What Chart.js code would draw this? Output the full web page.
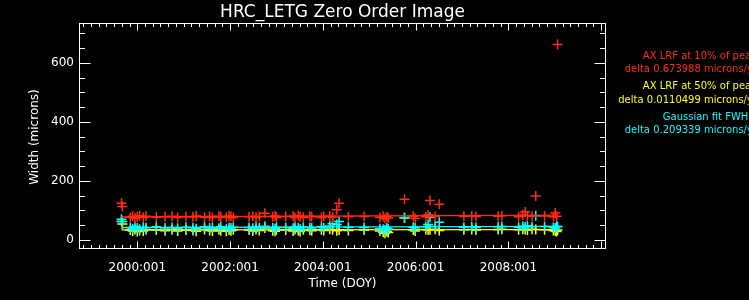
<!DOCTYPE html>
<html><head><meta charset="utf-8">
<script src="https://cdn.jsdelivr.net/npm/chart.js@4/dist/chart.umd.min.js"></script>
<style>html,body{margin:0;padding:0;background:#000;overflow:hidden}</style>
</head><body>
<canvas id="c" width="749" height="300"></canvas>
<script>
// ---- data (fractional year) ----
const years = [1999.66,1999.68,1999.85,1999.90,1999.95,2000.00,2000.05,2000.13,2000.19,2000.41,2000.60,2000.75,2000.87,2001.05,2001.20,2001.27,2001.45,2001.56,2001.62,2001.76,2001.80,2001.92,2001.98,2002.02,2002.07,2002.41,2002.49,2002.56,2002.63,2002.75,2002.92,2002.97,2003.00,2003.20,2003.36,2003.40,2003.47,2003.51,2003.58,2003.72,2003.76,2003.97,2004.02,2004.15,2004.21,2004.30,2004.35,2004.55,2004.89,2005.23,2005.30,2005.34,2005.38,2005.41,2005.76,2005.95,2005.99,2006.22,2006.27,2006.31,2006.42,2006.51,2007.04,2007.21,2007.30,2007.78,2007.86,2008.22,2008.31,2008.36,2008.41,2008.51,2008.59,2008.78,2008.97,2009.01,2009.04,2009.06];
const lrf10 = [124,113,76,80,74,78,82,77,80,77,78,80,76,79,78,81,77,79,76,80,78,77,81,79,76,78,80,77,79,90,78,81,77,79,80,76,82,78,77,80,78,76,79,80,77,102,124,78,79,76,80,72,78,74,138,80,73,78,85,133,79,121,80,81,79,80,82,78,84,94,82,80,149,81,78,91,80,662];
const lrf50 = [62,54,33,30,35,28,32,30,34,33,31,34,30,33,32,29,35,32,30,34,31,29,33,31,34,33,30,35,32,40,31,29,34,33,30,35,32,28,34,33,31,34,32,36,34,31,33,32,33,30,26,22,28,25,74,33,30,35,33,34,36,32,34,35,33,35,36,34,36,35,33,36,35,34,32,30,28,33];
const fwhm = [70,62,42,38,45,40,36,43,41,44,40,42,39,43,41,38,44,40,42,39,44,38,42,40,43,42,39,44,41,46,40,38,43,42,39,44,41,37,43,42,40,44,41,47,55,52,62,43,42,38,36,33,40,37,76,43,40,44,52,77,45,60,43,44,42,44,45,43,46,44,48,44,82,45,42,40,46,44];
const fitYears = [1999.66, 2009.06];
const fit10 = [77.5, 83.8];
const fit50 = [34.0, 35.0];
const fitFwhm = [41.5, 45.5];
const xTicks = [2000, 2002, 2004, 2006, 2008];
const xTickLabels = ['2000:001','2002:001','2004:001','2006:001','2008:001'];
const yTicks = [0, 200, 400, 600];
const legendLines = [
  ['AX LRF at 10% of peak', '#ff2a10'],
  ['delta 0.673988 microns/yr', '#ff2a10'],
  ['AX LRF at 50% of peak', '#ffff00'],
  ['delta 0.0110499 microns/yr', '#ffff00'],
  ['Gaussian fit FWHM', '#00ffff'],
  ['delta 0.209339 microns/yr', '#00ffff']
];

const RED = '#ff2a10', YEL = '#ffff00', CYA = '#00ffff';
const pts = (xs, ys) => xs.map((x, i) => ({x: x, y: ys[i]}));

const FONT = 'DejaVu Sans';

const decor = {
  id: 'decor',
  beforeDraw(chart) {
    const ctx = chart.ctx;
    ctx.save();
    ctx.fillStyle = '#000';
    ctx.fillRect(0, 0, chart.width, chart.height);
    ctx.restore();
  },
  afterDraw(chart) {
    const ctx = chart.ctx, a = chart.chartArea;
    const xs = chart.scales.x, ys = chart.scales.y;
    ctx.save();
    ctx.strokeStyle = '#fff';
    ctx.lineWidth = 1;
    const L = Math.round(a.left) + 0.5, R = Math.round(a.right) - 0.5;
    const T = Math.round(a.top) + 0.5, B = Math.round(a.bottom) - 0.5;
    ctx.strokeRect(L, T, R - L, B - T);
    ctx.beginPath();
    for (let k = Math.ceil(xs.min * 6); k <= Math.floor(xs.max * 6); k++) {
      const v = k / 6;
      const px = Math.round(xs.getPixelForValue(v)) + 0.5;
      const major = (k % 12 === 0);
      const len = major ? 7 : 3.5;
      ctx.moveTo(px, B); ctx.lineTo(px, B - len);
      ctx.moveTo(px, T); ctx.lineTo(px, T + len);
    }
    for (let v = 0; v <= ys.max; v += 50) {
      const py = Math.round(ys.getPixelForValue(v)) + 0.5;
      const major = (v % 200 === 0);
      const len = major ? 11 : 5.5;
      ctx.moveTo(L, py); ctx.lineTo(L + len, py);
      ctx.moveTo(R, py); ctx.lineTo(R - len, py);
    }
    ctx.stroke();
    ctx.fillStyle = '#fff';
    ctx.textAlign = 'center';
    ctx.textBaseline = 'middle';
    ctx.font = '17px "' + FONT + '"';
    ctx.fillText('HRC_LETG Zero Order Image', (a.left + a.right) / 2, 13);
    ctx.font = '12px "' + FONT + '"';
    ctx.fillText('Time (DOY)', (a.left + a.right) / 2, 284);
    ctx.save();
    ctx.translate(35, 137);
    ctx.rotate(-Math.PI / 2);
    ctx.fillText('Width (microns)', 0, 0);
    ctx.restore();
    ctx.textAlign = 'right';
    ctx.font = '10px "' + FONT + '"';
    const ly = [56, 69, 86, 100, 117, 130];
    legendLines.forEach((l, i) => {
      ctx.fillStyle = l[1];
      ctx.fillText(l[0], 757, ly[i]);
    });
    ctx.restore();
  }
};

const crossDs = (label, data, color, order) => ({
  label, data: pts(years, data), borderColor: color, backgroundColor: color,
  pointStyle: 'cross', pointRadius: 5, pointBorderWidth: 1.5, showLine: false, order
});
const lineDs = (label, data, color, order) => ({
  label, data: pts(fitYears, data), borderColor: color, backgroundColor: color,
  showLine: true, pointRadius: 0, borderWidth: 1.3, order
});

new Chart(document.getElementById('c'), {
  type: 'scatter',
  data: {
    datasets: [
      lineDs('fit 10%', fit10, RED, 1),
      crossDs('AX LRF at 10% of peak', lrf10, RED, 2),
      lineDs('fit FWHM', fitFwhm, CYA, 3),
      crossDs('Gaussian fit FWHM', fwhm, CYA, 4),
      lineDs('fit 50%', fit50, YEL, 5),
      crossDs('AX LRF at 50% of peak', lrf50, YEL, 6)
    ]
  },
  options: {
    responsive: false,
    animation: false,
    devicePixelRatio: 1,
    layout: { padding: { left: 0, right: 143, top: 23, bottom: 0 } },
    plugins: { legend: { display: false }, tooltip: { enabled: false }, title: { display: false } },
    scales: {
      x: {
        type: 'linear', min: 1998.744, max: 2010.104,
        grid: { display: false, drawTicks: false }, border: { display: false },
        afterFit(s) { s.height = 51; },
        afterBuildTicks(s) { s.ticks = xTicks.map(v => ({ value: v })); },
        ticks: {
          color: '#fff', font: { family: FONT, size: 12 }, padding: 12, maxRotation: 0, autoSkip: false,
          callback: (v) => { const i = xTicks.indexOf(v); return i >= 0 ? xTickLabels[i] : ''; }
        }
      },
      y: {
        type: 'linear', min: -31, max: 735,
        grid: { display: false, drawTicks: false }, border: { display: false },
        afterFit(s) { s.width = 79; },
        afterBuildTicks(s) { s.ticks = yTicks.map(v => ({ value: v })); },
        ticks: { color: '#fff', font: { family: FONT, size: 12 }, padding: 5, autoSkip: false }
      }
    }
  },
  plugins: [decor]
});
</script>
</body></html>
